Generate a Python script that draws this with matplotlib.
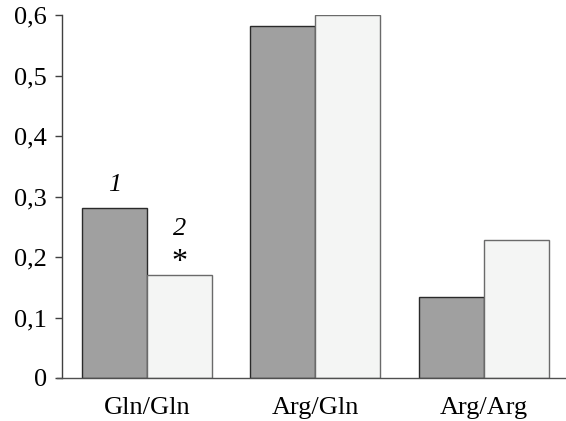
import numpy as np
import matplotlib.pyplot as plt

plt.rcParams['font.family'] = ['Liberation Serif', 'DejaVu Serif']

# доли пар по группам
categories = ['Gln/Gln', 'Arg/Gln', 'Arg/Arg']
series_1 = [0.281, 0.582, 0.134]
series_2 = [0.170, 0.600, 0.228]
y_ticks = [0, 0.1, 0.2, 0.3, 0.4, 0.5, 0.6]
y_tick_labels = ['0', '0,1', '0,2', '0,3', '0,4', '0,5', '0,6']

fig = plt.figure(figsize=(5.66, 4.21), dpi=100)
ax = fig.add_axes([62 / 566, 43 / 421, 1 - 62 / 566, 363 / 421])

x = np.arange(len(categories))
w = 0.386
ax.bar(x - w / 2, series_1, w, color='#a0a0a0', edgecolor='#2a2a2a', linewidth=1.0)
ax.bar(x + w / 2, series_2, w, color='#f4f5f4', edgecolor='#6a6a6a', linewidth=1.0)

# подписи серий и значимость над первой группой
ax.text(x[0] - w / 2, series_1[0] + 0.028, '1', ha='center', va='baseline',
        fontsize=19, style='italic')
ax.text(x[0] + w / 2, series_2[0] + 0.066, '2', ha='center', va='baseline',
        fontsize=19, style='italic')
ax.text(x[0] + w / 2, series_2[0] + 0.008, '*', ha='center', va='baseline',
        fontsize=23)

ax.set_xlim(-0.504, 2.487)
ax.set_ylim(0, 0.6)
ax.set_xticks(x)
ax.set_xticklabels(categories, fontsize=19)
ax.set_yticks(y_ticks)
ax.set_yticklabels(y_tick_labels, fontsize=19)
ax.tick_params(axis='x', length=0, pad=14)
ax.tick_params(axis='y', length=5, width=1, color='#404040', pad=6)

for side in ['top', 'right']:
    ax.spines[side].set_visible(False)
ax.spines['left'].set_color('#404040')
ax.spines['bottom'].set_color('#505050')
ax.spines['left'].set_linewidth(1)
ax.spines['bottom'].set_linewidth(1)
ax.spines['bottom'].set_bounds(-0.504 - 5 / 168.5, 2.487)
ax.spines['bottom'].set_clip_on(False)

fig.savefig('out.png', dpi=100)
